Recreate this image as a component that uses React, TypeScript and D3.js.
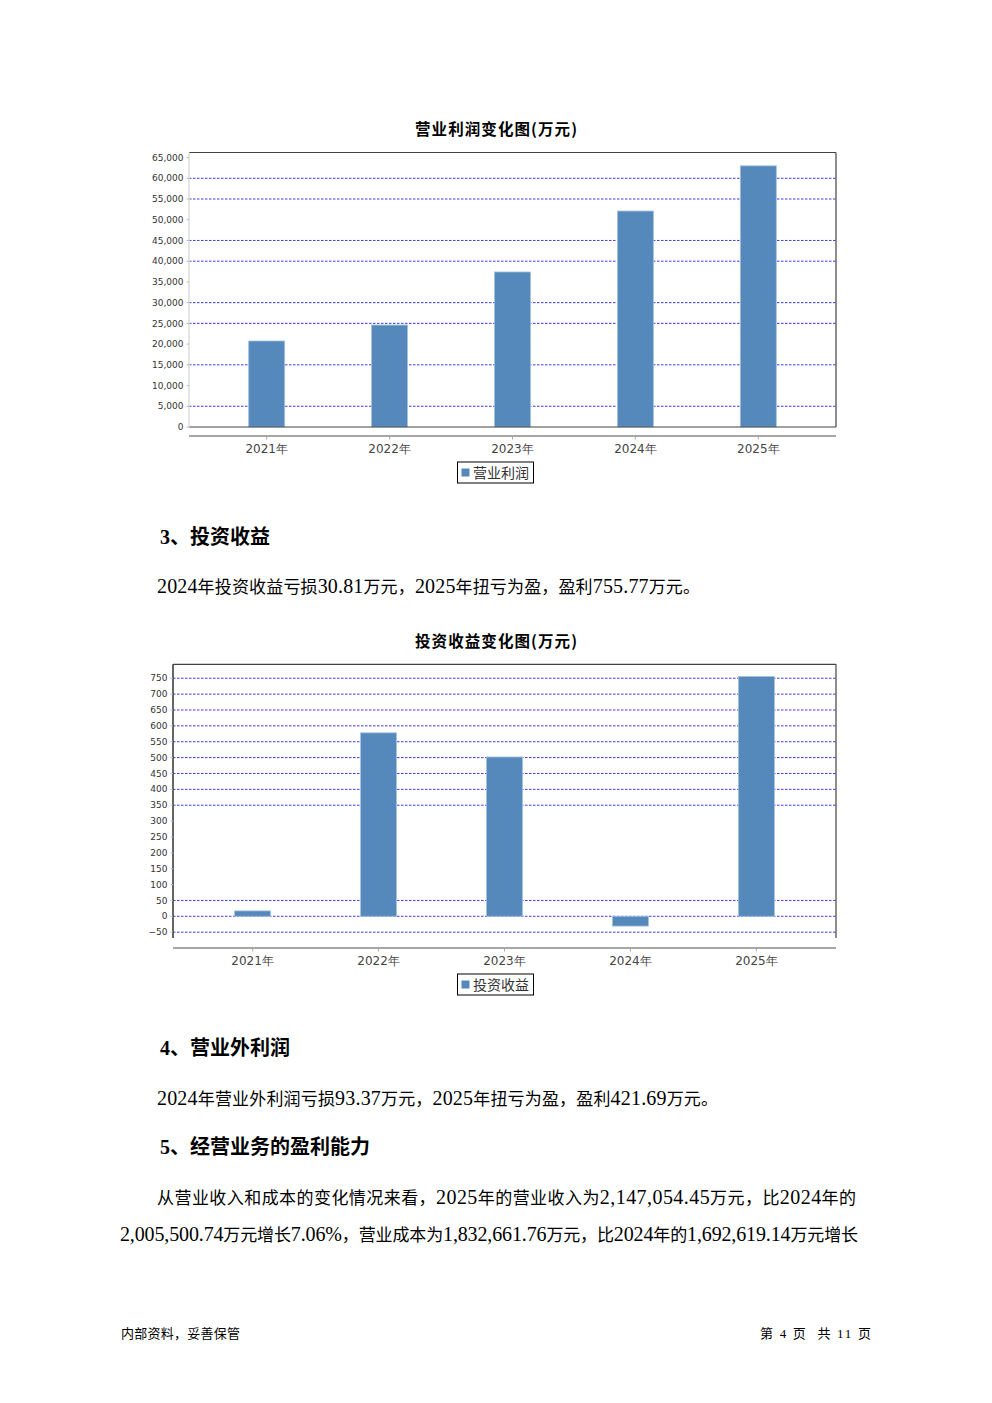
import React from "react";
import * as d3 from "d3";

const years = ["2021年", "2022年", "2023年", "2024年", "2025年"];
const operatingProfit = [20750, 24600, 37400, 52100, 63000];
const investmentIncome = [17, 578, 502, -30.81, 755.77];

const profitTicks = [0, 5000, 10000, 15000, 20000, 25000, 30000, 35000, 40000, 45000, 50000, 55000, 60000, 65000];
const profitGrid = [5000, 15000, 25000, 30000, 40000, 45000, 55000, 60000];
const investTicks = [-50, 0, 50, 100, 150, 200, 250, 300, 350, 400, 450, 500, 550, 600, 650, 700, 750];
const investGrid = [-50, 0, 50, 350, 400, 450, 500, 550, 600, 650, 700, 750];

const chart1Title = "营业利润变化图(万元)";
const chart1Legend = "营业利润";
const chart2Title = "投资收益变化图(万元)";
const chart2Legend = "投资收益";

const heading3 = "3、投资收益";
const para3 = "2024年投资收益亏损30.81万元，2025年扭亏为盈，盈利755.77万元。";
const heading4 = "4、营业外利润";
const para4 = "2024年营业外利润亏损93.37万元，2025年扭亏为盈，盈利421.69万元。";
const heading5 = "5、经营业务的盈利能力";
const para5a = "从营业收入和成本的变化情况来看，2025年的营业收入为2,147,054.45万元，比2024年的";
const para5b = "2,005,500.74万元增长7.06%，营业成本为1,832,661.76万元，比2024年的1,692,619.14万元增长";
const footerLeft = "内部资料，妥善保管";
const footerRight = "第 4 页  共 11 页";

const CJK = "'Noto Sans CJK SC', 'Noto Sans CJK JP', sans-serif";
const SERIF = "'Liberation Serif', 'DejaVu Serif', serif";
const SANS = "'DejaVu Sans', 'Liberation Sans', sans-serif";
const BAR = "#5589bb";
const GRID = "#3a3aff";

function MixedText(props: {
  x: number; y: number; text: string; latinSize: number; cjkSize: number;
  weight?: number; width?: number; fill?: string;
}) {
  const { x, y, text, latinSize, cjkSize, weight = 400, width, fill = "#000" } = props;
  const runs = text.match(/[\x00-\x7F]+|[^\x00-\x7F]+/g) || [];
  const extra: any = width ? { textLength: width, lengthAdjust: "spacing" } : {};
  return (
    <text x={x} y={y} fill={fill} fontWeight={weight} style={{ whiteSpace: "pre" }} {...extra}>
      {runs.map((r, i) =>
        /^[\x00-\x7F]/.test(r) ? (
          <tspan key={i} fontFamily={SERIF} fontSize={latinSize}>{r}</tspan>
        ) : (
          <tspan key={i} fontFamily={CJK} fontSize={cjkSize}>{r}</tspan>
        )
      )}
    </text>
  );
}

function BarChart(props: {
  title: string; titleY: number; legend: string; values: number[];
  left: number; right: number; top: number; bottom: number;
  yDomain: [number, number]; ticks: number[]; grid: number[];
  axisY: number; labelY: number; legendY: number; leftAxisColor: string;
  zeroSolid: boolean;
}) {
  const { title, titleY, legend, values, left, right, top, bottom, yDomain, ticks, grid,
    axisY, labelY, legendY, leftAxisColor, zeroSolid } = props;
  const x = d3.scalePoint<string>().domain(years).range([left, right]).padding(0.632);
  const y = d3.scaleLinear().domain(yDomain).range([bottom, top]);
  const fmt = d3.format(",");
  const bw = 36;
  return (
    <g>
      <text x={415} y={titleY} fontFamily={CJK} fontWeight={700} fontSize={15.5}
        textLength={162} lengthAdjust="spacing" fill="#000">{title}</text>
      {/* gridlines */}
      {grid.map((g) => (
        <line key={"g" + g} x1={left} x2={right} y1={y(g)} y2={y(g)}
          stroke={GRID} strokeWidth={1} strokeDasharray="2.5,1.5" />
      ))}
      {/* bars */}
      {values.map((v, i) => {
        const cx = x(years[i]) as number;
        const y0 = y(0), y1 = y(v);
        return (
          <rect key={"b" + i} x={cx - bw / 2} y={Math.min(y0, y1)} width={bw}
            height={Math.abs(y1 - y0)} fill={BAR} stroke="#a6c2de" strokeWidth={0.8} />
        );
      })}
      {/* frame */}
      <line x1={left} x2={right} y1={top} y2={top} stroke="#444" strokeWidth={1.2} />
      <line x1={right} x2={right} y1={top} y2={bottom} stroke="#444" strokeWidth={1.2} />
      {zeroSolid && <line x1={left} x2={right} y1={y(0)} y2={y(0)} stroke="#444" strokeWidth={1.2} />}
      <line x1={left} x2={left} y1={top} y2={bottom} stroke={leftAxisColor} strokeWidth={1.5} />
      {/* y ticks */}
      {ticks.map((t) => (
        <g key={"t" + t}>
          <line x1={left - 2.5} x2={left} y1={y(t)} y2={y(t)} stroke="#bbb" strokeWidth={1} />
          <text x={left - 5.5} y={y(t)} dy="0.35em" textAnchor="end" fontFamily={SANS}
            fontSize={9} fill="#333">{fmt(t)}</text>
        </g>
      ))}
      {/* x axis */}
      <line x1={left} x2={right} y1={axisY} y2={axisY} stroke="#888" strokeWidth={1.5} />
      {years.map((yr) => (
        <g key={yr}>
          <line x1={x(yr) as number} x2={x(yr) as number} y1={axisY} y2={axisY + 3.5}
            stroke="#aaa" strokeWidth={1} />
          <text x={x(yr) as number} y={labelY} textAnchor="middle" fontFamily={SANS}
            fontSize={12} fill="#444">{yr}</text>
        </g>
      ))}
      {/* legend */}
      <rect x={457.5} y={legendY} width={76} height={21} fill="#fff" stroke="#000" strokeWidth={1} />
      <rect x={461.5} y={legendY + 6.5} width={8} height={8} fill={BAR} />
      <text x={473} y={legendY + 15.5} fontFamily={CJK} fontSize={14} fill="#333">{legend}</text>
    </g>
  );
}

export default function App() {
  return (
    <svg width={992} height={1403} viewBox="0 0 992 1403"
      style={{ position: "absolute", left: 0, top: 0, background: "#fff", display: "block" }}>
      <rect x={0} y={0} width={992} height={1403} fill="#fff" />
      <BarChart title={chart1Title} titleY={135} legend={chart1Legend} values={operatingProfit}
        left={189} right={836} top={152.5} bottom={427} yDomain={[0, 66220]}
        ticks={profitTicks} grid={profitGrid} axisY={436} labelY={453} legendY={462}
        leftAxisColor="#dcdcdc" zeroSolid={true} />

      <MixedText x={160} y={544} text={heading3} latinSize={20} cjkSize={20} weight={700} />
      <MixedText x={157} y={593} text={para3} latinSize={20} cjkSize={17} width={543} />

      <BarChart title={chart2Title} titleY={647} legend={chart2Legend} values={investmentIncome}
        left={173} right={836} top={664.3} bottom={938} yDomain={[-68.4, 794]}
        ticks={investTicks} grid={investGrid} axisY={948} labelY={965} legendY={974}
        leftAxisColor="#333" zeroSolid={false} />

      <MixedText x={160} y={1055} text={heading4} latinSize={20} cjkSize={20} weight={700} />
      <MixedText x={157} y={1105} text={para4} latinSize={20} cjkSize={17} width={561} />
      <MixedText x={160} y={1154} text={heading5} latinSize={20} cjkSize={20} weight={700} />
      <MixedText x={157} y={1204} text={para5a} latinSize={20} cjkSize={17} width={699} />
      <MixedText x={120} y={1241} text={para5b} latinSize={20} cjkSize={17} width={738} />

      <MixedText x={121} y={1338} text={footerLeft} latinSize={13} cjkSize={13} width={119} />
      <MixedText x={760} y={1338} text={footerRight} latinSize={13} cjkSize={13} width={111} />
    </svg>
  );
}
